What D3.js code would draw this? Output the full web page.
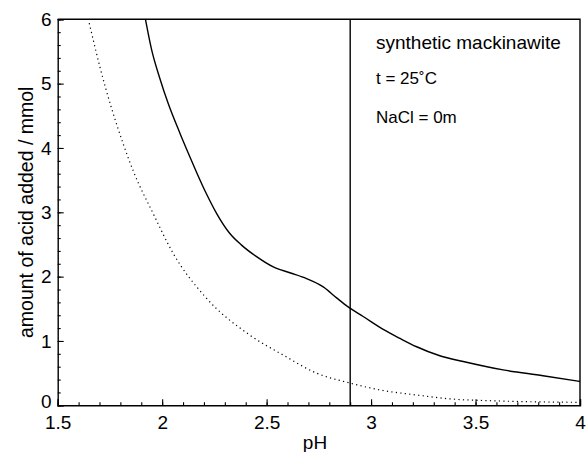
<!DOCTYPE html>
<html>
<head>
<meta charset="utf-8">
<script src="https://cdn.jsdelivr.net/npm/d3@7"></script>
<style>
  html, body { margin: 0; padding: 0; background: #fff; }
  svg { display: block; font-family: "Liberation Sans", Arial, Helvetica, sans-serif; }
</style>
</head>
<body>
<svg id="chart" width="586" height="452"></svg>
<script>
// ---- data ----
const solidPH   = [1.920, 1.950, 1.989, 2.029, 2.085, 2.133, 2.165, 2.213, 2.261, 2.324, 2.380, 2.452, 2.532, 2.611, 2.691, 2.771, 2.835, 2.890, 2.962, 3.058, 3.138, 3.218, 3.329, 3.441, 3.632, 3.823, 4.000];
const solidAcid = [6.00, 5.52, 5.08, 4.69, 4.23, 3.86, 3.62, 3.28, 2.98, 2.67, 2.49, 2.31, 2.15, 2.06, 1.97, 1.84, 1.67, 1.53, 1.38, 1.18, 1.04, 0.91, 0.77, 0.68, 0.55, 0.46, 0.37];
const dottedPH   = [1.651, 1.702, 1.814, 1.862, 1.957, 2.053, 2.205, 2.420, 2.580, 2.739, 2.894, 3.058, 3.218, 3.377, 3.616, 4.000];
const dottedAcid = [5.94, 5.26, 4.06, 3.64, 2.98, 2.36, 1.69, 1.09, 0.78, 0.50, 0.35, 0.23, 0.16, 0.10, 0.067, 0.046];
const verticalPH = 2.9;
const xTicks = [1.5, 2, 2.5, 3, 3.5, 4];
const xTickLabels = ["1.5", "2", "2.5", "3", "3.5", "4"];
const yTicks = [0, 1, 2, 3, 4, 5, 6];
const yTickLabels = ["0", "1", "2", "3", "4", "5", "6"];
const annotations = ["synthetic mackinawite", "t = 25\u02DAC", "NaCl = 0m"];
const xTitle = "pH";
const yTitle = "amount of acid added / mmol";

// ---- layout ----
const pLeft = 57.7, pRight = 580, pTop = 19.3, pBottom = 405.3;
const svg = d3.select("#chart");
const x = d3.scaleLinear().domain([1.5, 4]).range([pLeft, pRight]);
const y = d3.scaleLinear().domain([0, 6]).range([pBottom, pTop]);

// frame (top and right)
svg.append("path")
  .attr("d", `M${pLeft},${pTop}H${pRight}V${pBottom}`)
  .attr("fill", "none").attr("stroke", "#000").attr("stroke-width", 1.4);

// x axis
const xMinor = d3.range(15, 41).map(d => d / 10);
const gx = svg.append("g").attr("transform", `translate(0,${pBottom})`);
gx.call(d3.axisBottom(x).tickValues(xMinor).tickSize(-3).tickFormat(""))
  .call(g => g.select(".domain").remove());
const gx2 = svg.append("g").attr("transform", `translate(0,${pBottom})`);
gx2.call(d3.axisBottom(x).tickValues(xTicks).tickSize(-6).tickFormat((d, i) => xTickLabels[i]).tickPadding(10.5));
gx.selectAll("line").attr("stroke-width", 1.1);
gx2.selectAll("line").attr("stroke-width", 1.1);
gx2.select(".domain").attr("stroke-width", 1.4);
gx2.selectAll("text").attr("font-size", 19).attr("fill", "#000")
  .attr("font-family", "'Liberation Sans', Arial, sans-serif");

// y axis
const yMinor = d3.range(0, 31).map(d => d / 5);
const gy = svg.append("g").attr("transform", `translate(${pLeft},0)`);
gy.call(d3.axisLeft(y).tickValues(yMinor).tickSize(-3).tickFormat(""))
  .call(g => g.select(".domain").remove());
const gy2 = svg.append("g").attr("transform", `translate(${pLeft},0)`);
gy2.call(d3.axisLeft(y).tickValues(yTicks).tickSize(-6).tickFormat((d, i) => yTickLabels[i]).tickPadding(6));
gy.selectAll("line").attr("stroke-width", 1.1);
gy2.selectAll("line").attr("stroke-width", 1.1);
gy2.select(".domain").attr("stroke-width", 1.4);
gy2.selectAll("text").attr("font-size", 19).attr("fill", "#000")
  .attr("font-family", "'Liberation Sans', Arial, sans-serif");
// lift the "0" label slightly so it clears the "1.5" label below it
gy2.selectAll(".tick").filter(d => d === 0).select("text").attr("y", -4);

// vertical line
svg.append("line")
  .attr("x1", x(verticalPH)).attr("x2", x(verticalPH))
  .attr("y1", y(6)).attr("y2", y(0))
  .attr("stroke", "#000").attr("stroke-width", 1.4);

// curves
const line = d3.line().x(d => x(d[0])).y(d => y(d[1])).curve(d3.curveMonotoneX);
svg.append("path")
  .datum(solidPH.map((p, i) => [p, solidAcid[i]]))
  .attr("d", line)
  .attr("fill", "none").attr("stroke", "#000").attr("stroke-width", 1.4);
svg.append("path")
  .datum(dottedPH.map((p, i) => [p, dottedAcid[i]]))
  .attr("d", line)
  .attr("fill", "none").attr("stroke", "#000").attr("stroke-width", 1.2)
  .attr("stroke-dasharray", "1.2,3.3");

// annotations
const annY = [49, 84, 123];
const annSize = [19, 17, 17];
annotations.forEach((t, i) => {
  svg.append("text").attr("x", 376).attr("y", annY[i])
    .attr("font-size", annSize[i]).attr("fill", "#000").text(t);
});

// axis titles
svg.append("text").attr("x", 315).attr("y", 449)
  .attr("text-anchor", "middle").attr("font-size", 19).text(xTitle);
svg.append("text")
  .attr("transform", `translate(33,${(pTop + pBottom) / 2}) rotate(-90)`)
  .attr("text-anchor", "middle").attr("font-size", 19.5).text(yTitle);
</script>
</body>
</html>
